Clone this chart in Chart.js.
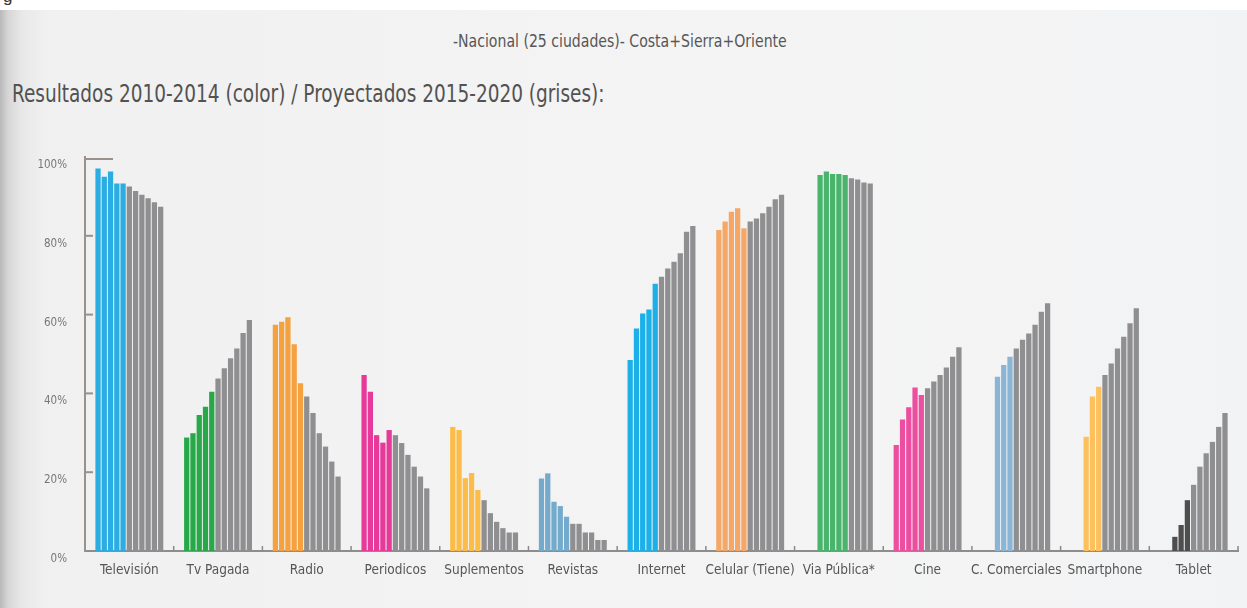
<!DOCTYPE html>
<html>
<head>
<meta charset="utf-8">
<script src="https://cdn.jsdelivr.net/npm/chart.js@4"></script>
<style>
  html, body { margin: 0; padding: 0; }
  body { width: 1247px; height: 608px; position: relative; overflow: hidden; background: #ffffff; }
  #panel {
    position: absolute; left: 0; top: 10px; width: 1247px; height: 598px;
    background:
      linear-gradient(to right, #b9b9b9 0px, #d6d6d6 8px, #e8e8e8 22px, rgba(240,240,240,0) 45px),
      linear-gradient(to right, #f0f0f0 0%, #f3f3f3 40%, #f4f4f4 70%, #f2f3f4 100%);
  }
  .txt { position: absolute; font-family: "DejaVu Sans Condensed", "Liberation Sans Narrow", sans-serif; color: #575757; white-space: nowrap; transform-origin: 0 0; }
  #frag { left: 3px; top: -13px; font-size: 17px; color: #333; font-family: "Liberation Sans", sans-serif; }
  #sub { left: 453px; top: 31px; font-size: 17px; transform: scaleX(0.92); }
  #head { left: 12px; top: 80px; font-size: 24px; color: #525252; transform: scaleX(0.856); }
  #c { position: absolute; left: 0; top: 0; }
</style>
</head>
<body>
<div id="panel"></div>
<div class="txt" id="frag">g</div>
<div class="txt" id="sub">-Nacional (25 ciudades)- Costa+Sierra+Oriente</div>
<div class="txt" id="head">Resultados 2010-2014 (color) / Proyectados 2015-2020 (grises):</div>
<canvas id="c" width="1247" height="608"></canvas>
<script>
// Media categories along the x axis
const categories = ['Televisión', 'Tv Pagada', 'Radio', 'Periodicos', 'Suplementos', 'Revistas',
  'Internet', 'Celular (Tiene)', 'Via Pública*', 'Cine', 'C. Comerciales', 'Smartphone', 'Tablet'];

// Years shown as bars inside each category
const years = ['2010', '2011', '2012', '2013', '2014', '2015', '2016', '2017', '2018', '2019', '2020'];

// Reach (%) per medium, one value per year (null = no measurement)
const television    = [97.1, 95.0, 96.3, 93.3, 93.3, 92.5, 91.4, 90.4, 89.5, 88.5, 87.4];
const tvPagada      = [28.8, 29.9, 34.5, 36.6, 40.4, 43.8, 46.4, 48.9, 51.4, 55.3, 58.6];
const radio         = [57.4, 58.2, 59.3, 52.5, 42.6, 39.2, 35.0, 29.9, 26.5, 22.7, 18.9];
const periodicos    = [44.7, 40.4, 29.4, 27.5, 30.7, 29.4, 27.4, 24.4, 21.4, 18.9, 15.9];
const suplementos   = [31.5, 30.7, 18.5, 19.8, 15.5, 12.9, 9.6, 7.4, 5.8, 4.7, 4.7];
const revistas      = [18.4, 19.7, 12.5, 11.4, 8.7, 6.9, 6.9, 4.7, 4.7, 2.8, 2.8];
const internet      = [48.5, 56.5, 60.3, 61.3, 67.8, 69.6, 71.7, 73.4, 75.6, 81.0, 82.5];
const celular       = [81.5, 83.6, 86.1, 87.0, 81.9, 83.6, 84.4, 85.7, 87.4, 89.3, 90.4];
const viaPublica    = [null, null, 95.4, 96.3, 95.7, 95.7, 95.4, 94.6, 94.3, 93.5, 93.3];
const cine          = [26.9, 33.4, 36.5, 41.5, 39.6, 41.3, 43.0, 44.7, 46.6, 49.3, 51.7];
const cComerciales  = [null, null, 44.2, 47.2, 49.3, 51.4, 53.6, 55.2, 57.4, 60.7, 62.9];
const smartphone    = [null, null, 29.0, 39.2, 41.7, 44.7, 47.6, 51.4, 54.4, 57.8, 61.6];
const tablet        = [null, null, 3.6, 6.6, 12.9, 16.8, 21.4, 24.8, 27.7, 31.5, 35.0];

// First year index drawn in grey (projection) for each medium
const projectedFrom = [5, 5, 5, 5, 5, 5, 5, 5, 7, 5, 5, 5, 5];

// Y axis ticks
const yTicks = [0, 20, 40, 60, 80, 100];

const series = [television, tvPagada, radio, periodicos, suplementos, revistas,
  internet, celular, viaPublica, cine, cComerciales, smartphone, tablet];

const mediaColors = ['#29ade3', '#27a94a', '#f5a13f', '#e6399a', '#fbbd48', '#74aacb',
  '#1cb0e8', '#f4a766', '#4bb46c', '#ec4f9f', '#8ab5d5', '#fcc15c', '#4e4e4e'];
const projectionGrey = '#8f8f91';

const datasets = years.map((y, yi) => ({
  label: y,
  data: series.map(s => s[yi]),
  backgroundColor: ctx => (yi < projectedFrom[ctx.dataIndex] ? mediaColors[ctx.dataIndex] : projectionGrey),
  borderWidth: 0,
  barPercentage: 0.84,
  categoryPercentage: 0.777
}));

const FONT = '"DejaVu Sans Condensed", "Liberation Sans Narrow", sans-serif';
const axisColor = '#9b918c';

// Inner tick marks on both axes plus the bracket at the top of the value axis
const innerTicks = {
  id: 'innerTicks',
  afterDraw(chart) {
    const { ctx, scales: { x, y } } = chart;
    ctx.save();
    ctx.strokeStyle = axisColor;
    ctx.lineWidth = 2;
    yTicks.forEach(v => {
      if (v === 0) return;
      const py = y.getPixelForValue(v) + (v === 100 ? 2 : 0);
      const len = v === 100 ? 28 : 8;
      ctx.beginPath();
      ctx.moveTo(x.left, py);
      ctx.lineTo(x.left + len, py);
      ctx.stroke();
    });
    ctx.lineWidth = 1.5;
    ctx.strokeStyle = '#8a8a8a';
    const n = categories.length;
    for (let i = 1; i <= n; i++) {
      const px = x.left + (x.right - x.left) * i / n;
      ctx.beginPath();
      ctx.moveTo(px, y.bottom);
      ctx.lineTo(px, y.bottom - 5);
      ctx.stroke();
    }
    ctx.restore();
  }
};

new Chart(document.getElementById('c'), {
  type: 'bar',
  data: { labels: categories, datasets },
  options: {
    responsive: false,
    animation: false,
    layout: { padding: { top: 157, right: 9, bottom: 0, left: 0 } },
    plugins: { legend: { display: false }, tooltip: { enabled: false } },
    scales: {
      x: {
        grid: { display: false, drawTicks: false },
        border: { display: true, color: '#8d8d8d', width: 2 },
        ticks: { color: '#565656', font: { family: FONT, size: 13.5 }, padding: 11, maxRotation: 0, autoSkip: false },
        afterFit: s => { s.height = 57; }
      },
      y: {
        min: 0,
        max: 100,
        afterBuildTicks: s => { s.ticks = yTicks.map(v => ({ value: v })); },
        grid: { display: false, drawTicks: false },
        border: { display: true, color: axisColor, width: 2 },
        ticks: { color: '#777777', font: { family: FONT, size: 11.5 }, padding: 18, labelOffset: 8, callback: v => v + '%' },
        afterFit: s => { s.width = 85; }
      }
    }
  },
  plugins: [innerTicks]
});
</script>
</body>
</html>
